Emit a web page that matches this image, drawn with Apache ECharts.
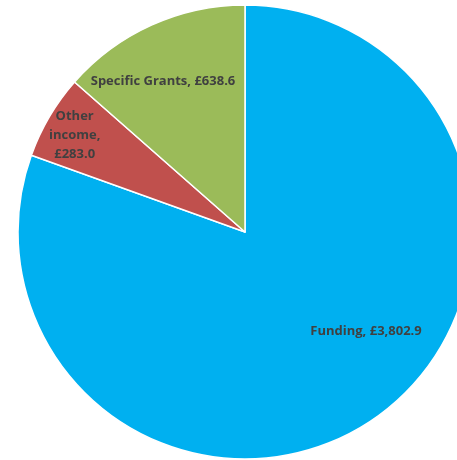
<!DOCTYPE html>
<html>
<head>
<meta charset="utf-8">
<style>
  html, body { margin: 0; padding: 0; background: #ffffff; }
  #chart { width: 457px; height: 460px; }
</style>
<script src="https://cdn.jsdelivr.net/npm/echarts@6/dist/echarts.min.js"></script>
</head>
<body>
<div id="chart"></div>
<script>
// Income sources (£m)
const categories = ['Funding', 'Other\nincome', 'Specific Grants'];
const values = [3802.9, 283.0, 638.6];
const colors = ['#00B0F0', '#C0504D', '#9BBB59'];
const labelOffsets = [[54, 4], [-70, -37], [-34, -45]];

function fmt(v) {
  return '£' + v.toLocaleString('en-GB', { minimumFractionDigits: 1, maximumFractionDigits: 1 });
}

const chart = echarts.init(document.getElementById('chart'), null, { renderer: 'canvas' });

chart.setOption({
  animation: false,
  series: [{
    type: 'pie',
    center: [245, 232],
    radius: [0, 227],
    startAngle: 90,
    clockwise: true,
    itemStyle: { borderColor: '#ffffff', borderWidth: 1.5 },
    label: {
      show: true,
      position: 'inside',
      color: '#404040',
      fontFamily: 'Open Sans',
      fontWeight: 'bold',
      fontSize: 13,
      lineHeight: 19,
      formatter: p => p.name + ',' + (p.name.indexOf('\n') >= 0 ? '\n' : ' ') + fmt(p.value)
    },
    labelLine: { show: false },
    data: categories.map((name, i) => ({
      name: name,
      value: values[i],
      itemStyle: { color: colors[i] },
      label: { offset: labelOffsets[i] }
    }))
  }]
});
</script>
</body>
</html>
